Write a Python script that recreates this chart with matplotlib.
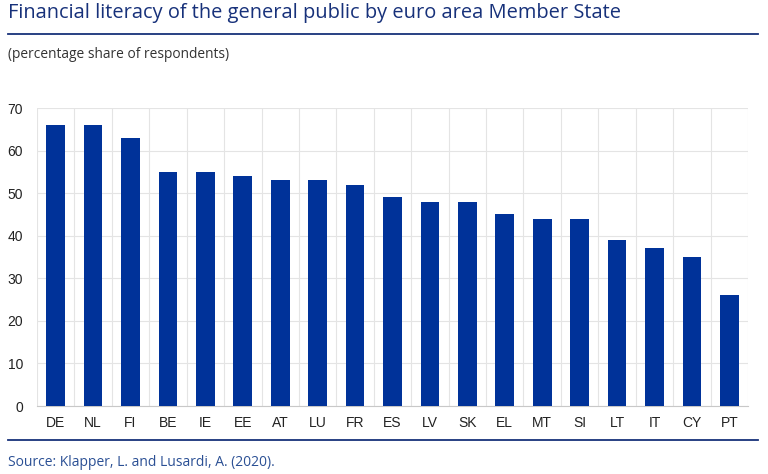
import matplotlib
matplotlib.use("Agg")
from matplotlib import pyplot as plt
import numpy as np

countries = ["DE", "NL", "FI", "BE", "IE", "EE", "AT", "LU", "FR", "ES",
             "LV", "SK", "EL", "MT", "SI", "LT", "IT", "CY", "PT"]
literacy = [66, 66, 63, 55, 55, 54, 53, 53, 52, 49,
            48, 48, 45, 44, 44, 39, 37, 35, 26]
yticks = [0, 10, 20, 30, 40, 50, 60, 70]

blue = "#003299"
title_col = "#17317a"

fig = plt.figure(figsize=(7.68, 4.74), dpi=100)
ax = fig.add_axes([37 / 768, 1 - 406 / 474, 711 / 768, 298 / 474])

x = np.arange(len(countries))
ax.bar(x, literacy, width=0.5, color=blue, zorder=3)

ax.set_xlim(-0.5, len(countries) - 0.5)
ax.set_ylim(0, 70)
ax.set_yticks(yticks)
ax.set_xticks(x)
ax.set_xticklabels(countries)

# vertical gridlines between categories, horizontal at ticks
for b in np.arange(-0.5, len(countries) + 0.5, 1):
    ax.axvline(b, color="#e4e4e4", lw=0.8, zorder=1)
ax.yaxis.grid(True, color="#e4e4e4", lw=0.8, zorder=1)

for s in ["top", "right", "left"]:
    ax.spines[s].set_visible(False)
ax.spines["bottom"].set_color("#c8c8c8")
ax.tick_params(axis="both", length=0, labelsize=10, colors="#222222", labelfontfamily="Liberation Sans")
ax.tick_params(axis="x", pad=7)
ax.tick_params(axis="y", pad=10)

fig.text(8 / 768, 1 - 13 / 474, "Financial literacy of the general public by euro area Member State",
         fontsize=14.4, color=title_col, family="Open Sans", va="center", ha="left")
fig.add_artist(plt.Line2D([8 / 768, 758 / 768], [1 - 34 / 474, 1 - 34 / 474], color=title_col, lw=1.3))
fig.text(8 / 768, 1 - 55 / 474, "(percentage share of respondents)",
         fontsize=9.9, color="#333333", family="Open Sans", va="center", ha="left")
fig.add_artist(plt.Line2D([8 / 768, 758 / 768], [1 - 440 / 474, 1 - 440 / 474], color=title_col, lw=1.3))
fig.text(8 / 768, 1 - 463 / 474, "Source: Klapper, L. and Lusardi, A. (2020).",
         fontsize=10, color="#2a4f94", family="Open Sans", va="center", ha="left")

fig.savefig("out.png", dpi=100)
